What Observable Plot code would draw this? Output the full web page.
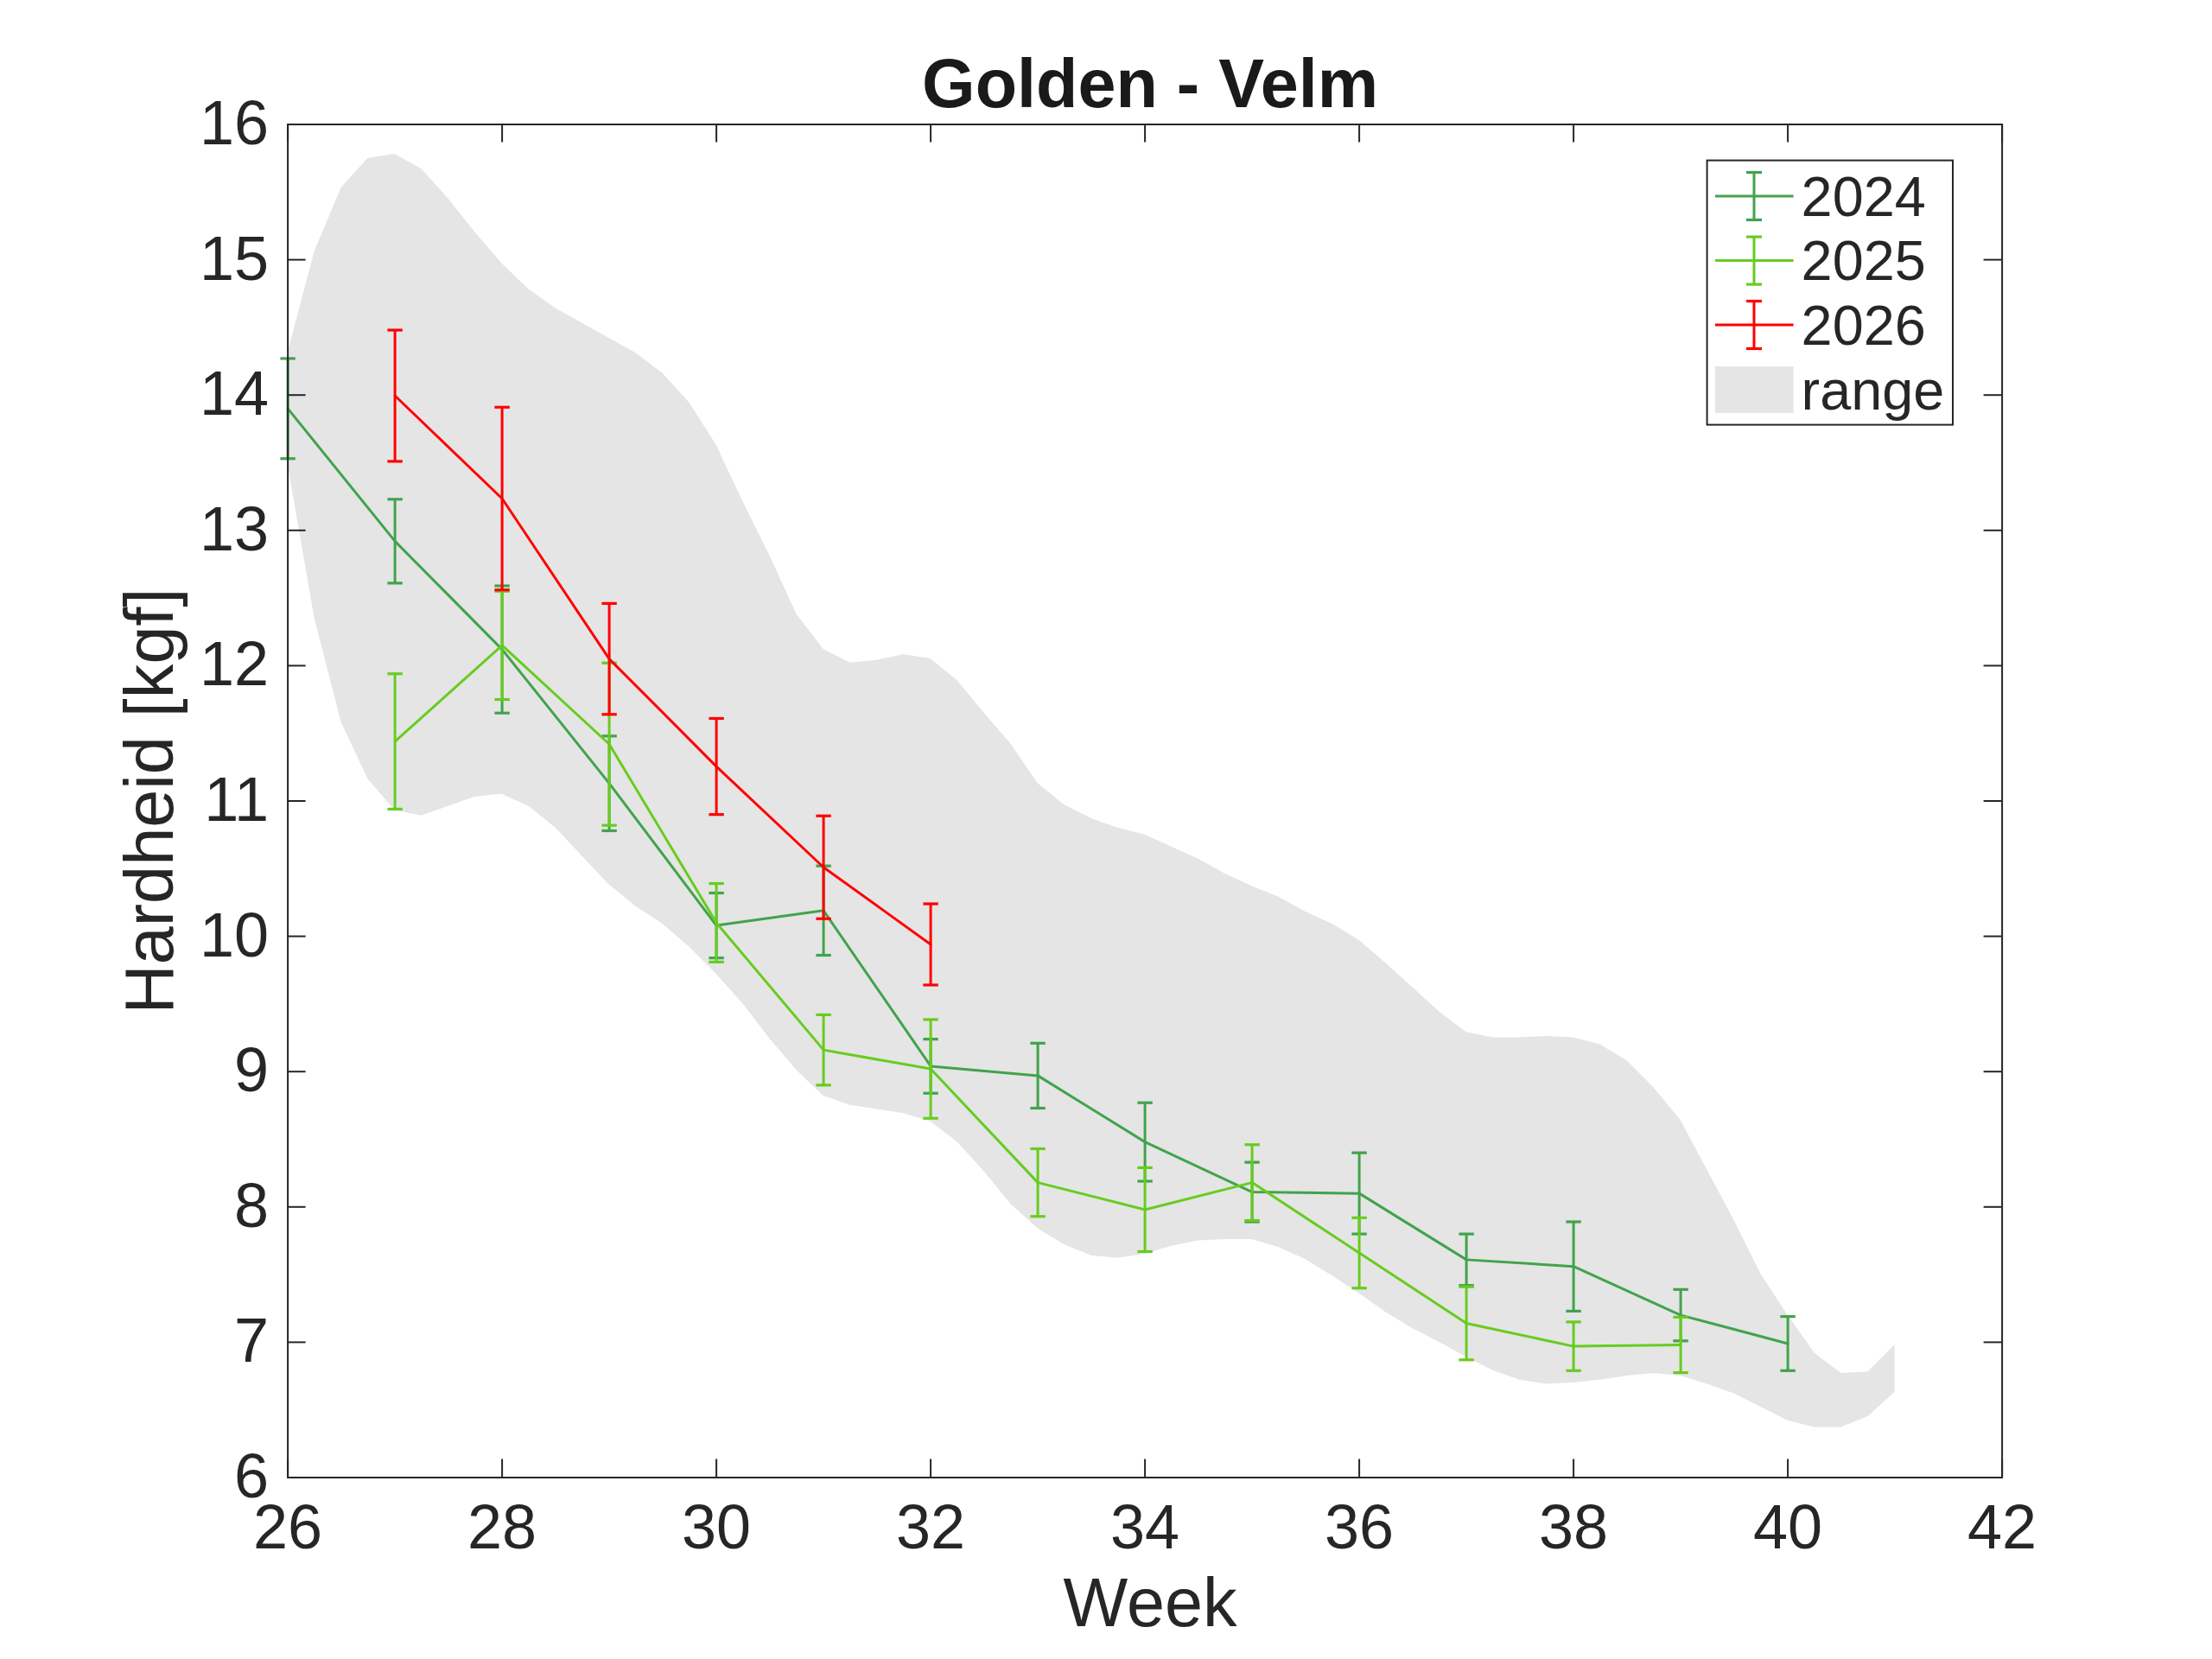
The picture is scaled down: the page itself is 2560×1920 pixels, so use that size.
<!DOCTYPE html>
<html>
<head>
<meta charset="utf-8">
<script src="https://cdn.jsdelivr.net/npm/d3@7"></script>
<script src="https://cdn.jsdelivr.net/npm/@observablehq/plot@0.6"></script>
<style>
html, body { margin: 0; padding: 0; background: #fff; }
svg { display: block; }
</style>
</head>
<body>
<div id="chart"></div>
<script>
// ---- data ----
const weeks2024 = [26, 27, 28, 29, 30, 31, 32, 33, 34, 35, 36, 37, 38, 39, 40];
const mean2024  = [13.90, 12.92, 12.12, 11.13, 10.08, 10.19, 9.04, 8.97, 8.48, 8.11, 8.10, 7.61, 7.56, 7.20, 6.99];
const err2024   = [0.37, 0.31, 0.47, 0.35, 0.24, 0.33, 0.20, 0.24, 0.29, 0.22, 0.30, 0.19, 0.33, 0.19, 0.20];

const weeks2025 = [27, 28, 29, 30, 31, 32, 33, 34, 35, 36, 37, 38, 39];
const mean2025  = [11.44, 12.15, 11.42, 10.10, 9.16, 9.02, 8.18, 7.98, 8.18, 7.66, 7.14, 6.97, 6.98];
const err2025   = [0.50, 0.40, 0.60, 0.29, 0.26, 0.365, 0.25, 0.31, 0.28, 0.26, 0.27, 0.18, 0.205];

const weeks2026 = [27, 28, 29, 30, 31, 32];
const mean2026  = [13.995, 13.235, 12.05, 11.255, 10.51, 9.94];
const err2026   = [0.485, 0.675, 0.41, 0.355, 0.38, 0.30];

const bandWeeks = [26.00, 26.25, 26.50, 26.75, 27.00, 27.25, 27.50, 27.75, 28.00, 28.25, 28.50, 28.75,
                   29.00, 29.25, 29.50, 29.75, 30.00, 30.25, 30.50, 30.75, 31.00, 31.25, 31.50, 31.75,
                   32.00, 32.25, 32.50, 32.75, 33.00, 33.25, 33.50, 33.75, 34.00, 34.25, 34.50, 34.75,
                   35.00, 35.25, 35.50, 35.75, 36.00, 36.25, 36.50, 36.75, 37.00, 37.25, 37.50, 37.75,
                   38.00, 38.25, 38.50, 38.75, 39.00, 39.25, 39.50, 39.75, 40.00, 40.25, 40.50, 40.75, 41.00];
const bandUpper = [14.31, 15.06, 15.53, 15.75, 15.78, 15.67, 15.45, 15.20, 14.97, 14.78, 14.64, 14.53,
                   14.42, 14.31, 14.16, 13.94, 13.63, 13.21, 12.81, 12.38, 12.12, 12.02, 12.04, 12.08,
                   12.05, 11.89, 11.65, 11.42, 11.13, 10.97, 10.87, 10.80, 10.75, 10.66, 10.57, 10.46,
                   10.37, 10.29, 10.18, 10.09, 9.97, 9.80, 9.62, 9.44, 9.29, 9.25, 9.25, 9.26,
                   9.25, 9.20, 9.08, 8.88, 8.64, 8.27, 7.90, 7.50, 7.20, 6.92, 6.77, 6.78, 6.98];
const bandLower = [13.49, 12.35, 11.58, 11.16, 10.93, 10.89, 10.96, 11.03, 11.05, 10.96, 10.80, 10.59,
                   10.38, 10.22, 10.09, 9.92, 9.72, 9.50, 9.24, 9.01, 8.82, 8.75, 8.72, 8.69,
                   8.63, 8.48, 8.26, 8.02, 7.84, 7.72, 7.64, 7.62, 7.65, 7.71, 7.75, 7.76,
                   7.76, 7.70, 7.61, 7.49, 7.36, 7.22, 7.10, 7.00, 6.89, 6.79, 6.72, 6.69,
                   6.70, 6.72, 6.75, 6.77, 6.75, 6.69, 6.62, 6.52, 6.42, 6.37, 6.37, 6.45, 6.63];

const xTicks = [26, 28, 30, 32, 34, 36, 38, 40, 42];
const yTicks = [6, 7, 8, 9, 10, 11, 12, 13, 14, 15, 16];

const titleText = "Golden - Velm";
const xLabel = "Week";
const yLabel = "Hardheid [kgf]";
const rangeLabel = "range";

const series = [
  {name: "2024", color: "#41a34c", weeks: weeks2024, mean: mean2024, err: err2024},
  {name: "2025", color: "#67cc1f", weeks: weeks2025, mean: mean2025, err: err2025},
  {name: "2026", color: "#ff0000", weeks: weeks2026, mean: mean2026, err: err2026}
];
const bandColor = "#e5e5e5";

// ---- build ----
const rows = s => s.weeks.map((w, i) => ({week: w, mean: s.mean[i], lo: s.mean[i] - s.err[i], hi: s.mean[i] + s.err[i]}));
const band = bandWeeks.map((w, i) => ({week: w, lo: bandLower[i], hi: bandUpper[i]}));
const capSymbol = {draw(ctx, size) { const h = Math.sqrt(size / Math.PI); ctx.moveTo(-h, 0); ctx.lineTo(h, 0); }};

const W = 2560, H = 1920, mL = 332.6, mR = 243.4, mT = 143.5, mB = 210.5;
const frameW = W - mL - mR, frameH = H - mT - mB;
const tickLen = 21;
const axisColor = "#262626";
const fontFamily = "'Liberation Sans', Arial, Helvetica, sans-serif";
const lw = 3;

const marks = [
  Plot.areaY(band, {x: "week", y1: "lo", y2: "hi", fill: bandColor})
];
for (const s of series) {
  const d = rows(s);
  marks.push(Plot.line(d, {x: "week", y: "mean", stroke: s.color, strokeWidth: lw}));
  marks.push(Plot.ruleX(d, {x: "week", y1: "lo", y2: "hi", stroke: s.color, strokeWidth: lw}));
  marks.push(Plot.dot(d, {x: "week", y: "lo", symbol: capSymbol, r: 8.7, fill: "none", stroke: s.color, strokeWidth: 3.2}));
  marks.push(Plot.dot(d, {x: "week", y: "hi", symbol: capSymbol, r: 8.7, fill: "none", stroke: s.color, strokeWidth: 3.2}));
}
marks.push(
  Plot.tickX(xTicks, {x: d => d, insetTop: frameH - tickLen, stroke: axisColor, strokeWidth: 2}),
  Plot.tickX(xTicks, {x: d => d, insetBottom: frameH - tickLen, stroke: axisColor, strokeWidth: 2}),
  Plot.tickY(yTicks, {y: d => d, insetRight: frameW - tickLen, stroke: axisColor, strokeWidth: 2}),
  Plot.tickY(yTicks, {y: d => d, insetLeft: frameW - tickLen, stroke: axisColor, strokeWidth: 2}),
  Plot.frame({stroke: axisColor, strokeWidth: 2}),
  Plot.axisX({ticks: xTicks, tickSize: 0, tickPadding: 31, fontSize: 72, label: null, fill: axisColor}),
  Plot.axisY({ticks: yTicks, tickSize: 0, tickPadding: 22, fontSize: 72, label: null, fill: axisColor}),
  Plot.text([titleText], {frameAnchor: "top", lineAnchor: "middle", textAnchor: "middle", dx: 6, dy: -45.8,
    fontSize: 79.2, fontWeight: "bold", fill: "#1a1a1a", text: d => d}),
  Plot.text([xLabel], {frameAnchor: "bottom", lineAnchor: "middle", textAnchor: "middle", dx: 6, dy: 146.2,
    fontSize: 79.2, fill: axisColor, text: d => d}),
  Plot.text([yLabel], {frameAnchor: "left", lineAnchor: "middle", textAnchor: "middle", dx: -158, rotate: -90,
    fontSize: 79.2, fill: axisColor, text: d => d})
);

const chart = Plot.plot({
  width: W, height: H,
  marginLeft: mL, marginRight: mR, marginTop: mT, marginBottom: mB,
  x: {domain: [26, 42]},
  y: {domain: [6, 16]},
  style: {fontFamily, fontSize: "72px", color: axisColor, background: "#fff", overflow: "visible"},
  marks
});
document.getElementById("chart").appendChild(chart);

// ---- legend (inside the axes, top right) ----
const svg = d3.select(chart);
const g = svg.append("g").attr("font-family", fontFamily).attr("font-size", 64.8)
  .attr("fill", axisColor).attr("text-anchor", "start");
g.append("rect").attr("x", 1975.6).attr("y", 185.6).attr("width", 284.4).attr("height", 306)
  .attr("fill", "#fff").attr("stroke", axisColor).attr("stroke-width", 2);
const rowY = [227, 301.6, 376];
series.forEach((s, i) => {
  const y = rowY[i];
  const c = s.color;
  g.append("line").attr("x1", 1985).attr("x2", 2075.6).attr("y1", y).attr("y2", y).attr("stroke", c).attr("stroke-width", lw);
  g.append("line").attr("x1", 2030).attr("x2", 2030).attr("y1", y - 27.5).attr("y2", y + 27.5).attr("stroke", c).attr("stroke-width", lw);
  g.append("line").attr("x1", 2021).attr("x2", 2039).attr("y1", y - 27.5).attr("y2", y - 27.5).attr("stroke", c).attr("stroke-width", 3.2);
  g.append("line").attr("x1", 2021).attr("x2", 2039).attr("y1", y + 27.5).attr("y2", y + 27.5).attr("stroke", c).attr("stroke-width", 3.2);
  g.append("text").attr("x", 2084.6).attr("y", y + 22.7).text(s.name);
});
g.append("rect").attr("x", 1985).attr("y", 424).attr("width", 90.6).attr("height", 54).attr("fill", bandColor);
g.append("text").attr("x", 2084.6).attr("y", 473.5).text(rangeLabel);
</script>
</body>
</html>
